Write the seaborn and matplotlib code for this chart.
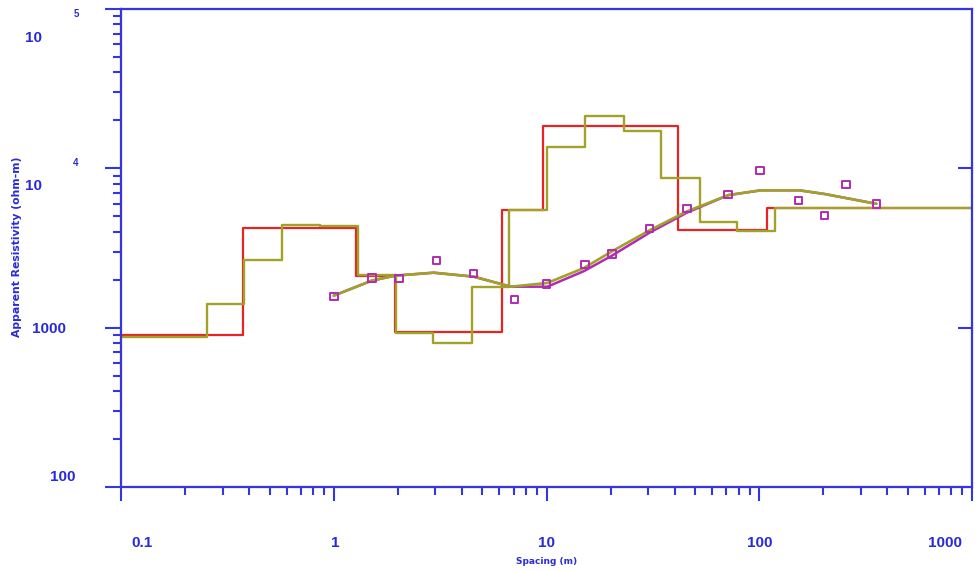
import numpy as np
import pandas as pd
import seaborn as sns
import matplotlib
matplotlib.use('Agg')
import matplotlib.pyplot as plt
from matplotlib import transforms, font_manager
from matplotlib.ticker import LogLocator, NullLocator, NullFormatter

sns.set_style('white')

# fonte estreita para os rotulos dos eixos, se existir
try:
    font_manager.findfont('Liberation Sans Narrow', fallback_to_default=False)
    narrow = 'Liberation Sans Narrow'
except Exception:
    narrow = 'Liberation Sans'
plt.rcParams['font.family'] = ['DejaVu Sans']

# dados observados (sondagem)
spacing_obs = [1.0, 1.51, 2.03, 3.04, 4.54, 7.08, 10.0, 15.2, 20.3, 30.5, 45.7, 71.3, 101, 153, 203, 255, 356]
rho_obs = [1566, 2051, 2030, 2643, 2193, 1500, 1880, 2494, 2912, 4180, 5610, 6840, 9680, 6300, 5070, 7910, 5970]

# curvas calculadas
spacing_calc = [1.0, 1.51, 1.94, 2.95, 4.55, 6.8, 10.1, 15.0, 20.3, 30.5, 45.7, 71.5, 102, 154, 203, 355]
rho_calc_a = [1588, 1973, 2120, 2213, 2090, 1808, 1808, 2265, 2831, 3945, 5270, 6790, 7280, 7280, 6900, 5990]
rho_calc_b = [1588, 1973, 2120, 2213, 2090, 1808, 1909, 2370, 3013, 4082, 5370, 6790, 7280, 7280, 6900, 5990]

# modelos em camadas (degraus)
depth_a = [0.1, 0.376, 1.27, 1.94, 6.15, 9.6, 41.7, 109, 1000]
rho_layer_a = [895, 4227, 2120, 944, 5440, 18360, 4120, 5640, 5640]
depth_b = [0.1, 0.253, 0.378, 0.573, 0.859, 1.30, 1.96, 2.92, 4.46, 6.68, 10.1, 15.2, 23.1, 34.6, 52.4, 78.5, 118, 1000]
rho_layer_b = [874, 1408, 2643, 4433, 4350, 2142, 931, 805, 1791, 5510, 13620, 21180, 17060, 8650, 4580, 4030, 5640, 5640]

xticks = [0.1, 1, 10, 100, 1000]
xtick_labels = ['0.1', '1', '10', '100', '1000']
yticks = [1e5, 1e4, 1e3, 1e2]

blue = '#3535e4'
txt_blue = '#2a2ad6'
red = '#e62424'
olive = '#a2a22a'
magenta = '#b02cb0'

fig = plt.figure(figsize=(9.75, 5.71), dpi=100)
ax = fig.add_axes([121/975, 84/571, 851/975, 478/571])

df_a = pd.DataFrame({'x': depth_a, 'y': rho_layer_a})
df_b = pd.DataFrame({'x': depth_b, 'y': rho_layer_b})
sns.lineplot(data=df_a, x='x', y='y', ax=ax, color=red, lw=1.6, drawstyle='steps-post', estimator=None, sort=False)
sns.lineplot(data=df_b, x='x', y='y', ax=ax, color=olive, lw=1.7, drawstyle='steps-post', estimator=None, sort=False)
sns.lineplot(x=spacing_calc, y=rho_calc_a, ax=ax, color=magenta, lw=1.8, estimator=None, sort=False)
sns.lineplot(x=spacing_calc, y=rho_calc_b, ax=ax, color=olive, lw=1.9, estimator=None, sort=False)
ax.scatter(spacing_obs, rho_obs, marker='s', s=30, facecolors='none', edgecolors=magenta, linewidths=1.4, zorder=5)

ax.set_xscale('log')
ax.set_yscale('log')
ax.set_xlim(0.1, 1000)
ax.set_ylim(100, 1e5)
ax.set_xlabel('')
ax.set_ylabel('')

for s in ax.spines.values():
    s.set_color(blue)
    s.set_linewidth(1.6)

ax.xaxis.set_major_locator(LogLocator(base=10, numticks=10))
ax.xaxis.set_minor_locator(LogLocator(base=10, subs=np.arange(2, 10), numticks=20))
ax.yaxis.set_major_locator(LogLocator(base=10, numticks=10))
ax.yaxis.set_minor_locator(LogLocator(base=10, subs=np.arange(2, 10), numticks=20))
ax.xaxis.set_major_formatter(NullFormatter())
ax.xaxis.set_minor_formatter(NullFormatter())
ax.yaxis.set_major_formatter(NullFormatter())
ax.yaxis.set_minor_formatter(NullFormatter())
ax.tick_params(which='both', left=True, bottom=True, right=False, top=False, color=blue, direction='out')
ax.tick_params(axis='y', which='major', length=11.5, width=1.5)
ax.tick_params(axis='y', which='minor', length=5.8, width=1.5)
ax.tick_params(axis='x', which='major', length=10, width=1.5)
ax.tick_params(axis='x', which='minor', length=5.5, width=1.5)

# ticks internos do lado direito
ax2 = ax.twinx()
ax2.set_yscale('log')
ax2.set_ylim(ax.get_ylim())
ax2.set_yticks([1e3, 1e4])
ax2.yaxis.set_minor_locator(NullLocator())
ax2.tick_params(axis='y', which='major', direction='in', length=10, width=1.5, color=blue, labelright=False)
for s in ax2.spines.values():
    s.set_visible(False)

# rotulos do eixo x
xtr = ax.get_xaxis_transform()
x_dx = [21, 1.5, 0, 0, -27]
for v, lab, dx in zip(xticks, xtick_labels, x_dx):
    t = transforms.offset_copy(xtr, fig=fig, x=dx, y=-56, units='dots')
    ax.text(v, 0, lab, transform=t, ha='center', va='center', fontsize=11,
            family=[narrow, 'DejaVu Sans'], fontweight='bold', color=txt_blue)

# rotulos do eixo y (estilo 10 com expoente solto)
ytr = ax.get_yaxis_transform()
y_base = ['10', '10', '1000', '100']
y_exp = ['5', '4', '', '']
y_pos = [(-87, -29), (-87, -18), (-72, -1), (-58, 10)]
exp_pos = [(-45, -5), (-45, 5), (0, 0), (0, 0)]
for v, b, e, (dx, dy), (ex, ey) in zip(yticks, y_base, y_exp, y_pos, exp_pos):
    t = transforms.offset_copy(ytr, fig=fig, x=dx, y=dy, units='dots')
    ax.text(0, v, b, transform=t, ha='center', va='center', fontsize=11,
            family=[narrow, 'DejaVu Sans'], fontweight='bold', color=txt_blue)
    if e:
        t2 = transforms.offset_copy(ytr, fig=fig, x=ex, y=ey, units='dots')
        ax.text(0, v, e, transform=t2, ha='center', va='center', fontsize=7,
                family=[narrow, 'DejaVu Sans'], fontweight='bold', color=txt_blue)

fig.text(17/975, 1 - 247/571, 'Apparent Resistivity (ohm-m)', rotation=90, ha='center', va='center',
         fontsize=7.8, fontweight='bold', color=txt_blue)
fig.text(547/975, 1 - 562/571, 'Spacing (m)', ha='center', va='center',
         fontsize=6.5, fontweight='bold', color=txt_blue)

plt.savefig('out.png', dpi=100)
plt.close()
